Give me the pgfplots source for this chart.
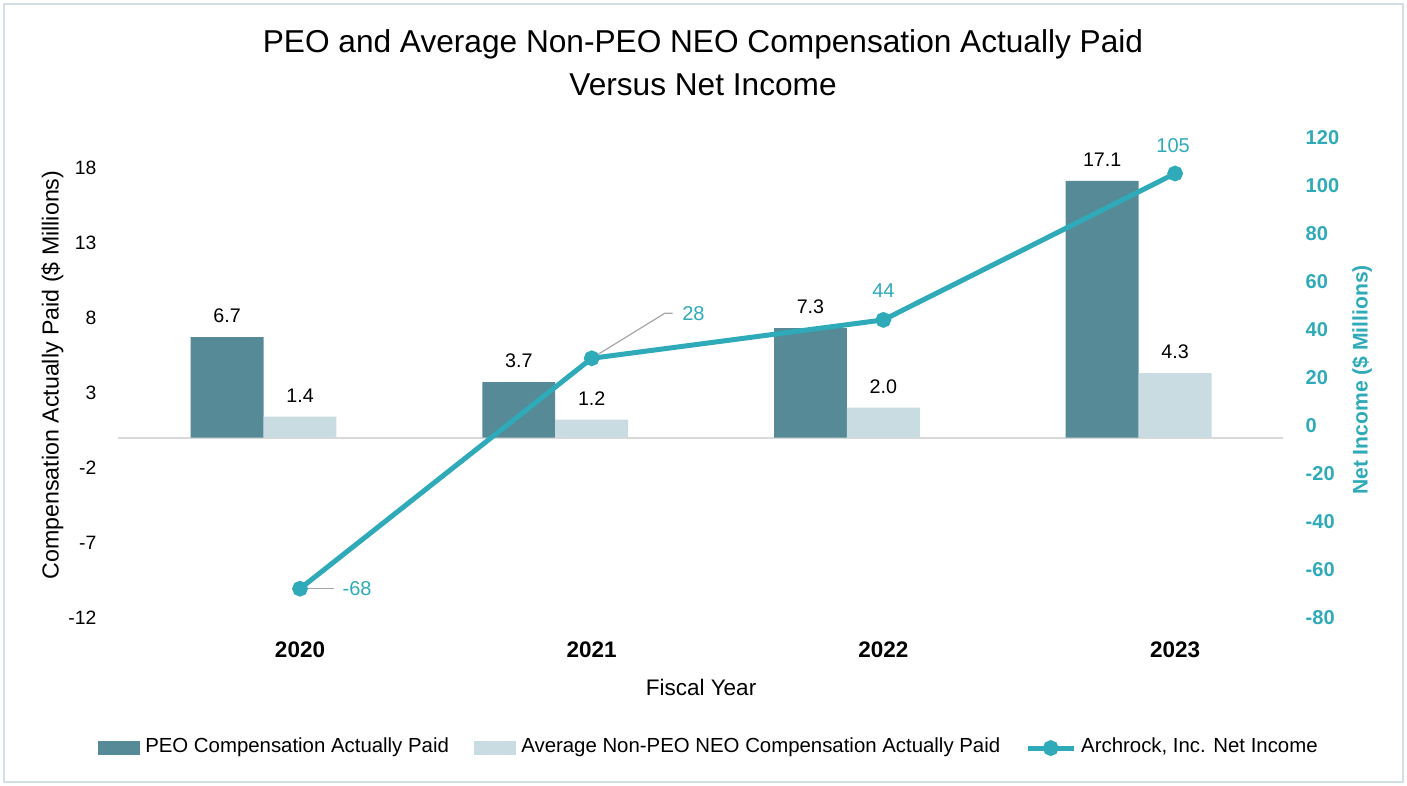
\documentclass[border=0pt]{standalone}
\usepackage{pgfplots}
\pgfplotsset{compat=1.18}
\usepackage{fontspec}
\setmainfont{Liberation Sans}

\definecolor{peo}{HTML}{568A96}
\definecolor{neo}{HTML}{C9DCE1}
\definecolor{netinc}{HTML}{2EAAB8}
\definecolor{baseln}{HTML}{D9D9D9}
\definecolor{framec}{HTML}{D2DFE4}

% shared geometry of the two overlaid axes (1px of the reference = 0.01cm)
\pgfplotsset{chartbase/.style={
    scale only axis,
    width=11.65cm, height=4.80cm,
    at={(1.18cm,-6.175cm)}, anchor=south west,
    xmin=-0.624, xmax=3.37,
    axis line style={draw=none},
    major tick length=0pt,
    clip=false,
}}

\begin{document}
\begin{tikzpicture}
\useasboundingbox (0,0) rectangle (14.07,-7.86);
\draw[framec, line width=0.02cm] (0.04,-0.04) rectangle (14.03,-7.82);

\node[anchor=base, font=\fontsize{9}{10.8}\selectfont] at (7.03,-0.53)
    {PEO and Average Non-PEO NEO Compensation Actually Paid};
\node[anchor=base, font=\fontsize{9}{10.8}\selectfont] at (7.03,-0.96)
    {Versus Net Income};
\node[rotate=90, font=\fontsize{6.6}{8}\selectfont] at (0.525,-3.75)
    {Compensation Actually Paid (\$ Millions)};
\node[rotate=90, text=netinc, font=\bfseries\fontsize{6}{7.2}\selectfont] at (13.62,-3.80)
    {Net Income (\$ Millions)};
\node[font=\fontsize{6.4}{7.7}\selectfont] at (7.01,-6.87) {Fiscal Year};

% compensation bars, left axis
\begin{axis}[chartbase,
    ymin=-12, ymax=20,
    ytick={-12,-7,-2,3,8,13,18},
    yticklabels={-12,-7,-2,3,8,13,18},
    yticklabel style={font=\fontsize{5.5}{6.6}\selectfont, anchor=east, inner sep=0pt, xshift=-0.21cm},
    xtick={0,1,2,3},
    xticklabels={2020,2021,2022,2023},
    xticklabel style={font=\bfseries\fontsize{6.4}{7.7}\selectfont, anchor=center, inner sep=0pt, yshift=-0.325cm},
    ybar, bar width=0.25,
    nodes near coords={\pgfmathprintnumber[fixed,fixed zerofill,precision=1,assume math mode=true]{\pgfplotspointmeta}},
    every node near coord/.append style={font=\fontsize{5.6}{6.7}\selectfont, text=black, anchor=south, inner sep=0pt, yshift=0.135cm},
]
\draw[baseln, line width=0.02cm] (axis cs:-0.624,0) -- (axis cs:3.37,0);
\addplot[fill=peo, draw=none, bar shift=-0.25] coordinates {(0,6.7) (1,3.7) (2,7.3) (3,17.1)};
\addplot[fill=neo, draw=none, bar shift=0] coordinates {(0,1.4) (1,1.2) (2,2.0) (3,4.3)};
\end{axis}

% net income line, right axis
\begin{axis}[chartbase,
    ymin=-80, ymax=120,
    ytick={-80,-60,-40,-20,0,20,40,60,80,100,120},
    yticklabels={-80,-60,-40,-20,0,20,40,60,80,100,120},
    yticklabel pos=right,
    yticklabel style={font=\bfseries\fontsize{5.7}{6.8}\selectfont, text=netinc, anchor=west, inner sep=0pt, xshift=0.22cm},
    xtick=\empty,
    legend columns=3,
    legend style={at={(0.5075,-0.272)}, anchor=center, draw=none, fill=none,
        font=\fontsize{5.8}{7}\selectfont, inner sep=0pt,
        nodes={inner sep=0.03cm},
        /tikz/every odd column/.append style={column sep=0.02cm},
        /tikz/every even column/.append style={column sep=0.22cm}},
]
\addlegendimage{legend image code/.code={\fill[peo] (0cm,-0.065cm) rectangle (0.41cm,0.065cm);}}
\addlegendentry{PEO Compensation Actually Paid}
\addlegendimage{legend image code/.code={\fill[neo] (0cm,-0.065cm) rectangle (0.41cm,0.065cm);}}
\addlegendentry{Average Non-PEO NEO Compensation Actually Paid}
\addplot[netinc, line width=0.05cm, mark=*, mark size=0.053cm,
    mark options={draw=none, fill=netinc},
    legend image code/.code={\draw[netinc, line width=0.05cm] (0cm,0cm) -- (0.46cm,0cm);
        \fill[netinc] (0.23cm,0cm) circle (0.053cm);}]
    coordinates {(0,-68) (1,28) (2,44) (3,105)};
\addlegendentry{Archrock, Inc. Net Income}

\draw[gray!70, line width=0.012cm] (axis cs:0,-68) -- ++(0.34cm,0cm)
    node[right, inner sep=0.08cm, text=netinc, font=\fontsize{5.7}{6.8}\selectfont] {-68};
\draw[gray!70, line width=0.012cm] (axis cs:1,28) -- ++(0.73cm,0.45cm) -- ++(0.08cm,0cm)
    node[right, inner sep=0.09cm, text=netinc, font=\fontsize{5.7}{6.8}\selectfont] {28};
\node[text=netinc, font=\fontsize{5.7}{6.8}\selectfont, yshift=0.29cm] at (axis cs:2,44) {44};
\node[text=netinc, font=\fontsize{5.7}{6.8}\selectfont, yshift=0.28cm, xshift=-0.02cm] at (axis cs:3,105) {105};
\end{axis}
\end{tikzpicture}
\end{document}
